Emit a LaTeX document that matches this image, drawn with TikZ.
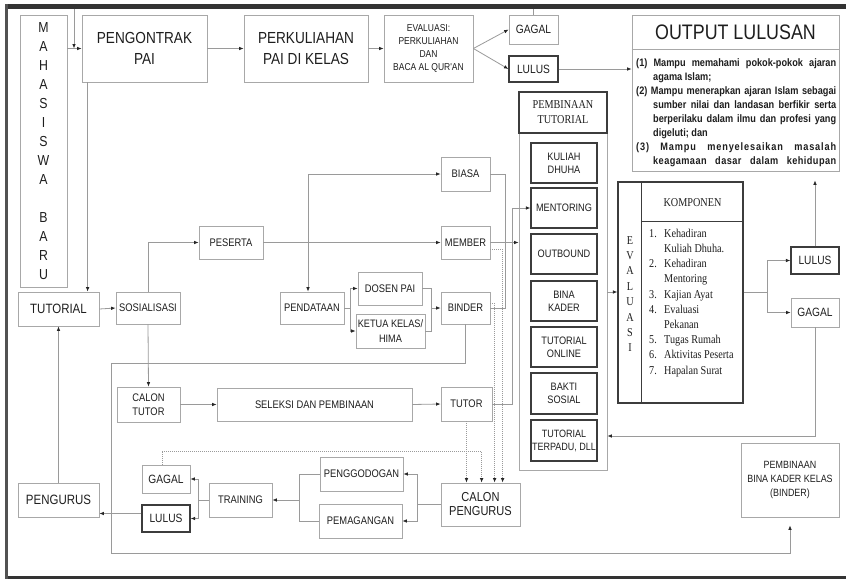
\documentclass[tikz,border=0pt]{standalone}
\usepackage{fontspec}
\setmainfont{Liberation Sans}
\newfontfamily\nsans[FakeStretch=0.85]{Liberation Sans}
\newfontfamily\nserif[FakeStretch=0.85]{Liberation Serif}
\usetikzlibrary{arrows.meta}
\definecolor{txt}{HTML}{1E1E1E}
\definecolor{lbord}{HTML}{A8A8A8}
\definecolor{dbord}{HTML}{3C3C3C}
\definecolor{lin}{HTML}{9A9A9A}
\definecolor{framec}{HTML}{333333}
\newcommand\bx[7]{\node[#6, minimum width={(#4-#2)*1pt}, minimum height={(#5-#3)*1pt}] (#1) at ({(#2+#4)/2},{(#3+#5)/2}) {#7};}
\newcommand\jfull[1]{\makebox[200pt][s]{#1}}
\newcommand\jind[1]{\hspace*{17pt}\makebox[183pt][s]{#1}}
\newcommand\lind[1]{\hspace*{17pt}#1}
\newcommand\knum[1]{\makebox[15pt][l]{#1}}
\begin{document}
\begin{tikzpicture}[x=1pt,y=-1pt,
  bxs/.style={draw=lbord, line width=0.8pt, inner sep=0pt, align=center, text=txt, font=\nsans\fontsize{11}{13}\selectfont},
  bxd/.style={bxs, draw=dbord, line width=1.2pt},
  conn/.style={draw=lin, line width=0.8pt},
  arw/.style={conn, -{Latex[length=4.5pt,width=3.6pt,color=black!85]}},
  barw/.style={conn, {Latex[length=4.5pt,width=3.6pt,color=black!85]}-{Latex[length=4.5pt,width=3.6pt,color=black!85]}},
  darw/.style={arw, dash pattern=on 1pt off 1pt}
]
\useasboundingbox (0,0) rectangle (846,579);
\fill[white] (0,0) rectangle (846,579);
\fill[framec] (5,4) rectangle (846,9);
\fill[framec] (5,575.5) rectangle (846,579);
\fill[framec!85] (5,4) rectangle (7.5,579);

% top row
\bx{mhs}{20}{15}{67}{287}{bxs, font=\nsans\fontsize{14.5}{19}\selectfont}{M\\A\\H\\A\\S\\I\\S\\W\\A\\[19pt]B\\A\\R\\U}
\bx{peng}{82}{15}{207}{82}{bxs, font=\nsans\fontsize{16}{21}\selectfont}{PENGONTRAK\\PAI}
\bx{perk}{244}{15}{368}{82}{bxs, font=\nsans\fontsize{16}{21}\selectfont}{PERKULIAHAN\\PAI DI KELAS}
\bx{eval}{384}{15}{473}{82}{bxs, font=\nsans\fontsize{10}{12.7}\selectfont}{EVALUASI:\\PERKULIAHAN\\DAN\\BACA AL QUR'AN}
\bx{gagal1}{509}{15}{558}{44}{bxs, font=\nsans\fontsize{12}{14}\selectfont}{GAGAL}
\bx{lulus1}{509}{56}{558}{82}{bxd, font=\nsans\fontsize{12}{14}\selectfont}{LULUS}

% output
\bx{out}{632}{15}{839}{171}{bxs}{}
\coordinate (ydiv) at (0,49);
\draw[lbord, line width=0.8pt] (out.west |- ydiv) -- (out.east |- ydiv);
\node[text=txt, inner sep=0pt, font=\nsans\fontsize{21}{24}\selectfont] (outT) at (735.5,32.5) {OUTPUT LULUSAN};
\node[anchor=north west, inner sep=0pt, text=txt, align=left, font=\nsans\bfseries\fontsize{10.8}{14}\selectfont] (outI) at (636,56) {%
\strut\jfull{(1) Mampu memahami pokok-pokok ajaran}\\
\lind{agama Islam;}\\
\jfull{(2) Mampu menerapkan ajaran Islam sebagai}\\
\jind{sumber nilai dan landasan berfikir serta}\\
\jind{berperilaku dalam ilmu dan profesi yang}\\
\lind{digeluti; dan}\\
\jfull{\addfontfeature{LetterSpace=8}(3) Mampu menyelesaikan masalah}\\
\jind{\addfontfeature{LetterSpace=4}keagamaan dasar dalam kehidupan}};

% middle left
\bx{tutorial}{18}{292}{99}{326}{bxs, font=\nsans\fontsize{13.5}{16}\selectfont}{TUTORIAL}
\bx{sosial}{116}{292}{180}{324}{bxs}{SOSIALISASI}
\bx{peserta}{199}{226}{263}{259}{bxs}{PESERTA}
\bx{biasa}{441}{157}{490}{191}{bxs}{BIASA}
\bx{member}{441}{226}{490}{259}{bxs}{MEMBER}
\bx{pendataan}{280}{292}{344}{324}{bxs}{PENDATAAN}
\bx{dosen}{358}{272}{422}{305}{bxs}{DOSEN PAI}
\bx{ketua}{356}{314}{425}{348}{bxs, font=\nsans\fontsize{10.8}{14.5}\selectfont}{KETUA KELAS/\\HIMA}
\bx{binder}{441}{292}{490}{324}{bxs}{BINDER}

% lower
\bx{calontutor}{117}{387}{180}{422}{bxs, font=\nsans\fontsize{11}{14}\selectfont}{CALON\\TUTOR}
\bx{seleksi}{217}{388}{412}{421}{bxs}{SELEKSI DAN PEMBINAAN}
\bx{tutor}{441}{387}{492}{421}{bxs}{TUTOR}
\bx{calonpeng}{441}{483}{520}{526}{bxs, font=\nsans\fontsize{13}{14}\selectfont}{CALON\\PENGURUS}
\bx{penggodogan}{320}{457}{403}{491}{bxs}{PENGGODOGAN}
\bx{pemagangan}{319}{504}{402}{538}{bxs}{PEMAGANGAN}
\bx{training}{209}{483}{272}{517}{bxs}{TRAINING}
\bx{gagal2}{142}{465}{190}{493}{bxs, font=\nsans\fontsize{12}{14}\selectfont}{GAGAL}
\bx{lulus2}{142}{505}{190}{532}{bxd, font=\nsans\fontsize{12}{14}\selectfont}{LULUS}
\bx{pengurus}{18}{483}{99}{517}{bxs, font=\nsans\fontsize{13.5}{16}\selectfont}{PENGURUS}
\bx{binakader}{741}{443}{839}{517}{bxs, font=\nsans\fontsize{10.5}{14}\selectfont}{PEMBINAAN\\BINA KADER KELAS\\(BINDER)}

% pembinaan tutorial column
\bx{ptc}{519}{92}{607}{470}{bxs}{}
\bx{pth}{519}{92}{607}{133}{bxd, font=\nserif\fontsize{12}{15}\selectfont}{PEMBINAAN\\TUTORIAL}
\bx{kd}{531}{143}{597}{183}{bxd, font=\nsans\fontsize{10.8}{13}\selectfont}{KULIAH\\DHUHA}
\bx{mt}{531}{188}{597}{228}{bxd, font=\nsans\fontsize{10.8}{13}\selectfont}{MENTORING}
\bx{ob}{531}{234}{597}{274}{bxd, font=\nsans\fontsize{10.8}{13}\selectfont}{OUTBOUND}
\bx{bk}{531}{281}{597}{321}{bxd, font=\nsans\fontsize{10.8}{13}\selectfont}{BINA\\KADER}
\bx{to}{531}{327}{597}{367}{bxd, font=\nsans\fontsize{10.8}{13}\selectfont}{TUTORIAL\\ONLINE}
\bx{bs}{531}{373}{597}{414}{bxd, font=\nsans\fontsize{10.8}{13}\selectfont}{BAKTI\\SOSIAL}
\bx{tt}{531}{420}{597}{461}{bxd, font=\nsans\fontsize{10.6}{13}\selectfont}{TUTORIAL\\TERPADU, DLL}

% evaluasi / komponen
\bx{evb}{618}{182}{743}{403}{bxd}{}
\draw[dbord, line width=1.2pt] ([xshift=24pt]evb.north west) -- ([xshift=24pt]evb.south west);
\draw[dbord, line width=1.2pt] ([xshift=24pt,yshift=-40pt]evb.north west) -- ([yshift=-40pt]evb.north east);
\node[text=txt, inner sep=0pt, align=center, font=\nserif\fontsize{12}{15.4}\selectfont] (evl) at (630,294) {E\\V\\A\\L\\U\\A\\S\\I};
\node[text=txt, inner sep=0pt, font=\nserif\fontsize{12}{14}\selectfont] (komp) at (692.5,203) {KOMPONEN};
\node[anchor=north west, inner sep=0pt, text=txt, align=left, font=\nserif\fontsize{12}{15.2}\selectfont] (klist) at (649,226.5) {%
\strut\knum{1.}Kehadiran\\
\hspace*{15pt}Kuliah Dhuha.\\
\knum{2.}Kehadiran\\
\hspace*{15pt}Mentoring\\
\knum{3.}Kajian Ayat\\
\knum{4.}Evaluasi\\
\hspace*{15pt}Pekanan\\
\knum{5.}Tugas Rumah\\
\knum{6.}Aktivitas Peserta\\
\knum{7.}Hapalan Surat};
\bx{lulus3}{791}{247}{839}{274}{bxd, font=\nsans\fontsize{12}{14}\selectfont}{LULUS}
\bx{gagal3}{791}{298}{839}{327}{bxs, font=\nsans\fontsize{12}{14}\selectfont}{GAGAL}

% ---------- connectors ----------
\coordinate (tA) at (74,9);
\draw[arw] (tA) -- (tA |- peng.west);
\draw[arw] (mhs.east |- peng.west) -- (peng.west);
\draw[conn] (gagal1.north) -- ++(0,-6);
\draw[arw] (peng.east) -- (perk.west);
\draw[arw] (perk.east) -- (eval.west);
\draw[arw] (eval.east) -- (gagal1.west);
\draw[arw] (eval.east) -- (lulus1.west);
\draw[arw] (lulus1.east) -- (lulus1.east -| out.west);

\coordinate (pg) at ([xshift=6pt]peng.south west);
\draw[arw] (pg) -- (pg |- tutorial.north);
\draw[arw] (tutorial.east) -- (sosial.west);
\draw[arw] (sosial.north) |- (peserta.west);
\draw[arw] (peserta.east) -- (member.west);
\draw[barw] ([xshift=-4pt]pendataan.north) |- (biasa.west);
\coordinate (f1) at ([xshift=6pt]pendataan.east);
\draw[conn] (pendataan.east) -- (f1);
\draw[arw] (f1) |- (dosen.west);
\draw[arw] (f1) |- (ketua.west);
\coordinate (j1) at ([xshift=-9pt]binder.west);
\draw[conn] (dosen.east) -| (j1);
\draw[conn] (ketua.east) -| (j1);
\draw[arw] (j1) -- (binder.west);
\coordinate (j2) at ([xshift=15pt]binder.east);
\draw[conn] (biasa.east) -| (j2) -- (binder.east);
\draw[arw] (member.east) -- (member.east -| ptc.west);
\draw[arw] (tutor.east) -- ++(20,0) |- (mt.west);

% dotted feeders to calon pengurus
\coordinate (cp1) at ([xshift=62pt]calonpeng.north west);
\coordinate (cp2) at ([xshift=54pt]calonpeng.north west);
\coordinate (cp3) at ([xshift=41pt]calonpeng.north west);
\coordinate (dl) at (0,451);
\draw[darw] ([yshift=-6.5pt]member.east) -| (cp1);
\draw[darw] ([yshift=5pt]binder.east) -| (cp2);
\draw[darw] (tutor.south) -- (tutor.south |- calonpeng.north);
\draw[darw] ([xshift=-4pt]gagal2.north) |- (cp3 |- dl) -- (cp3);

% big loop binder -> pembinaan bina kader
\coordinate (lp1) at (111,363);
\coordinate (lp2) at (111,553);
\draw[arw, shorten >=8pt] (binder.south) |- (lp1) -- (lp2) -| (binakader.south);

\draw[arw] (sosial.south) -- (calontutor.north);
\draw[arw] (calontutor.east) -- (seleksi.west);
\draw[arw] (seleksi.east) -- (tutor.west);

\coordinate (f2) at ([xshift=-23pt]calonpeng.west);
\draw[conn] (calonpeng.west) -- (f2);
\draw[arw] (f2) |- (penggodogan.east);
\draw[arw] (f2) |- (pemagangan.east);
\coordinate (j3) at ([xshift=27pt]training.east);
\draw[conn] (penggodogan.west) -| (j3);
\draw[conn] (pemagangan.west) -| (j3);
\draw[arw] (j3) -- (training.east);
\coordinate (f3) at ([xshift=-10pt]training.west);
\draw[conn] (training.west) -- (f3);
\draw[arw] (f3) |- (gagal2.east);
\draw[arw] (f3) |- (lulus2.east);
\coordinate (l2w) at ([yshift=5pt]lulus2.west);
\draw[arw] (l2w) -- (l2w -| pengurus.east);
\draw[arw] (pengurus.north) -- (tutorial.south);

% right side
\coordinate (yk) at (0,292);
\draw[arw] (ptc.east |- yk) -- (evb.west |- yk);
\coordinate (f4) at ([xshift=24pt]evb.east);
\draw[conn] (evb.east) -- (f4);
\draw[arw] (f4) |- (lulus3.west);
\draw[arw] (f4) |- (gagal3.west);
\draw[arw, shorten >=9pt] (lulus3.north) -- (lulus3.north |- out.south);
\coordinate (yg) at (0,436);
\draw[arw] (gagal3.south) |- (ptc.east |- yg);
\end{tikzpicture}
\end{document}
